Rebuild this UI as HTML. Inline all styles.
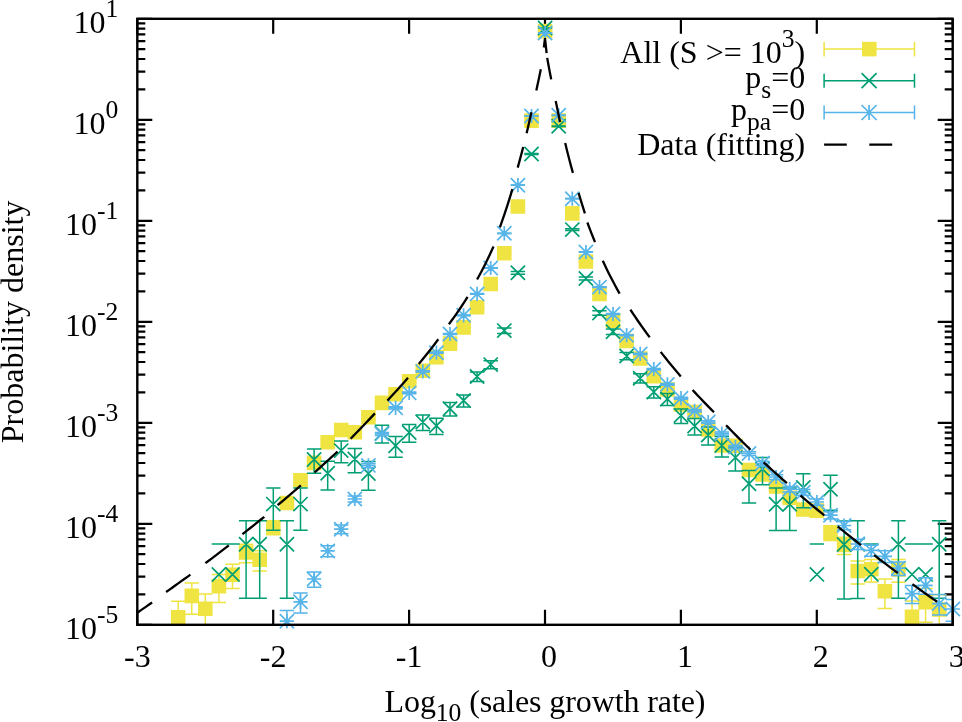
<!DOCTYPE html>
<html><head><meta charset="utf-8"><style>
html,body{margin:0;padding:0;background:#fff;}
svg{display:block;}
text{font-family:"Liberation Serif",serif;font-size:32px;fill:#000;}
svg{will-change:transform;}
</style></head><body>
<svg width="962" height="722" viewBox="0 0 962 722">
<defs><clipPath id="c"><rect x="137.3" y="18.8" width="815.40" height="606.00"/></clipPath></defs>
<rect width="962" height="722" fill="#fff"/>
<path d="M137.30 624.80V609.80M137.30 18.80V33.80M273.20 624.80V609.80M273.20 18.80V33.80M409.10 624.80V609.80M409.10 18.80V33.80M545.00 624.80V609.80M545.00 18.80V33.80M680.90 624.80V609.80M680.90 18.80V33.80M816.80 624.80V609.80M816.80 18.80V33.80M952.70 624.80V609.80M952.70 18.80V33.80M137.30 624.80H152.30M952.70 624.80H937.70M137.30 594.40H145.30M952.70 594.40H944.70M137.30 576.61H145.30M952.70 576.61H944.70M137.30 563.99H145.30M952.70 563.99H944.70M137.30 554.20H145.30M952.70 554.20H944.70M137.30 546.21H145.30M952.70 546.21H944.70M137.30 539.45H145.30M952.70 539.45H944.70M137.30 533.59H145.30M952.70 533.59H944.70M137.30 528.42H145.30M952.70 528.42H944.70M137.30 523.80H152.30M952.70 523.80H937.70M137.30 493.40H145.30M952.70 493.40H944.70M137.30 475.61H145.30M952.70 475.61H944.70M137.30 462.99H145.30M952.70 462.99H944.70M137.30 453.20H145.30M952.70 453.20H944.70M137.30 445.21H145.30M952.70 445.21H944.70M137.30 438.45H145.30M952.70 438.45H944.70M137.30 432.59H145.30M952.70 432.59H944.70M137.30 427.42H145.30M952.70 427.42H944.70M137.30 422.80H152.30M952.70 422.80H937.70M137.30 392.40H145.30M952.70 392.40H944.70M137.30 374.61H145.30M952.70 374.61H944.70M137.30 361.99H145.30M952.70 361.99H944.70M137.30 352.20H145.30M952.70 352.20H944.70M137.30 344.21H145.30M952.70 344.21H944.70M137.30 337.45H145.30M952.70 337.45H944.70M137.30 331.59H145.30M952.70 331.59H944.70M137.30 326.42H145.30M952.70 326.42H944.70M137.30 321.80H152.30M952.70 321.80H937.70M137.30 291.40H145.30M952.70 291.40H944.70M137.30 273.61H145.30M952.70 273.61H944.70M137.30 260.99H145.30M952.70 260.99H944.70M137.30 251.20H145.30M952.70 251.20H944.70M137.30 243.21H145.30M952.70 243.21H944.70M137.30 236.45H145.30M952.70 236.45H944.70M137.30 230.59H145.30M952.70 230.59H944.70M137.30 225.42H145.30M952.70 225.42H944.70M137.30 220.80H152.30M952.70 220.80H937.70M137.30 190.40H145.30M952.70 190.40H944.70M137.30 172.61H145.30M952.70 172.61H944.70M137.30 159.99H145.30M952.70 159.99H944.70M137.30 150.20H145.30M952.70 150.20H944.70M137.30 142.21H145.30M952.70 142.21H944.70M137.30 135.45H145.30M952.70 135.45H944.70M137.30 129.59H145.30M952.70 129.59H944.70M137.30 124.42H145.30M952.70 124.42H944.70M137.30 119.80H152.30M952.70 119.80H937.70M137.30 89.40H145.30M952.70 89.40H944.70M137.30 71.61H145.30M952.70 71.61H944.70M137.30 58.99H145.30M952.70 58.99H944.70M137.30 49.20H145.30M952.70 49.20H944.70M137.30 41.21H145.30M952.70 41.21H944.70M137.30 34.45H145.30M952.70 34.45H944.70M137.30 28.59H145.30M952.70 28.59H944.70M137.30 23.42H145.30M952.70 23.42H944.70M137.30 18.80H152.30M952.70 18.80H937.70" stroke="#000" stroke-width="2.2" fill="none"/>
<g fill="none" stroke-linecap="butt">
<path d="M178.2 601.3V642.4M171.0 642.4H185.4M171.0 601.3H185.4M191.8 583.0V614.3M184.6 614.3H199.0M184.6 583.0H199.0M205.3 594.1V631.0M198.2 631.0H212.5M198.2 594.1H212.5M218.9 574.5V602.4M211.7 602.4H226.1M211.7 574.5H226.1M232.5 564.2V588.5M225.3 588.5H239.7M225.3 564.2H239.7M246.1 544.2V562.8M238.9 562.8H253.3M238.9 544.2H253.3M259.7 550.7V571.0M252.5 571.0H266.9M252.5 550.7H266.9M273.3 520.8V534.7M266.1 534.7H280.5M266.1 520.8H280.5M286.9 498.1V508.6M279.7 508.6H294.1M279.7 498.1H294.1M300.5 476.4V484.4M293.3 484.4H307.7M293.3 476.4H307.7M314.1 459.7V466.3M306.9 466.3H321.3M306.9 459.7H321.3M327.7 439.7V444.9M320.5 444.9H334.9M320.5 439.7H334.9M341.2 427.8V432.3M334.1 432.3H348.4M334.1 427.8H348.4M354.8 430.0V434.7M347.6 434.7H362.0M347.6 430.0H362.0M368.4 415.3V419.2M361.2 419.2H375.6M361.2 415.3H375.6M382.0 401.3V404.6M374.8 404.6H389.2M374.8 401.3H389.2M395.6 392.8V395.8M388.4 395.8H402.8M388.4 392.8H402.8M409.2 379.9V382.5M402.0 382.5H416.4M402.0 379.9H416.4M422.8 369.7V372.0M415.6 372.0H430.0M415.6 369.7H430.0M436.4 356.2V358.2M429.2 358.2H443.6M429.2 356.2H443.6M450.0 342.8V344.5M442.8 344.5H457.2M442.8 342.8H457.2M463.6 326.7V328.1M456.4 328.1H470.8M456.4 326.7H470.8M477.1 306.7V307.9M469.9 307.9H484.3M469.9 306.7H484.3M490.7 283.6V284.4M483.5 284.4H497.9M483.5 283.6H497.9M504.3 253.0V253.6M497.1 253.6H511.5M497.1 253.0H511.5M517.9 206.3V206.7M510.7 206.7H525.1M510.7 206.3H525.1M531.5 120.5V120.7M524.3 120.7H538.7M524.3 120.5H538.7M545.1 31.1V31.1M537.9 31.1H552.3M537.9 31.1H552.3M558.7 120.5V120.7M551.5 120.7H565.9M551.5 120.5H565.9M572.3 213.2V213.6M565.1 213.6H579.5M565.1 213.2H579.5M585.9 261.2V261.8M578.7 261.8H593.1M578.7 261.2H593.1M599.5 293.5V294.5M592.3 294.5H606.7M592.3 293.5H606.7M613.0 319.9V321.3M605.8 321.3H620.2M605.8 319.9H620.2M626.6 340.2V341.8M619.4 341.8H633.8M619.4 340.2H633.8M640.2 357.5V359.5M633.0 359.5H647.4M633.0 357.5H647.4M653.8 374.9V377.4M646.6 377.4H661.0M646.6 374.9H661.0M667.4 388.1V390.9M660.2 390.9H674.6M660.2 388.1H674.6M681.0 402.8V406.2M673.8 406.2H688.2M673.8 402.8H688.2M694.6 410.2V413.9M687.4 413.9H701.8M687.4 410.2H701.8M708.2 427.3V431.8M701.0 431.8H715.4M701.0 427.3H715.4M721.8 442.9V448.3M714.6 448.3H729.0M714.6 442.9H729.0M735.4 443.1V448.5M728.2 448.5H742.6M728.2 443.1H742.6M749.0 466.6V473.7M741.8 473.7H756.2M741.8 466.6H756.2M762.5 470.9V478.4M755.3 478.4H769.7M755.3 470.9H769.7M776.1 482.4V491.1M768.9 491.1H783.3M768.9 482.4H783.3M789.7 493.1V502.9M782.5 502.9H796.9M782.5 493.1H796.9M803.3 504.2V515.5M796.1 515.5H810.5M796.1 504.2H810.5M816.9 505.2V516.7M809.7 516.7H824.1M809.7 505.2H824.1M830.5 525.8V540.6M823.3 540.6H837.7M823.3 525.8H837.7M844.1 537.3V554.4M836.9 554.4H851.3M836.9 537.3H851.3M857.7 560.9V584.1M850.5 584.1H864.9M850.5 560.9H864.9M871.3 559.4V582.1M864.1 582.1H878.5M864.1 559.4H878.5M884.9 578.9V608.4M877.6 608.4H892.1M877.6 578.9H892.1M898.4 559.5V582.2M891.2 582.2H905.6M891.2 559.5H905.6M912.0 601.0V641.9M904.8 641.9H919.2M904.8 601.0H919.2M925.6 588.4V622.2M918.4 622.2H932.8M918.4 588.4H932.8M939.2 594.7V631.9M932.0 631.9H946.4M932.0 594.7H946.4" stroke="#f0e442" stroke-width="1.5" clip-path="url(#c)"/>
<path d="M170.9 609.9h14.6v14.6h-14.6zM184.5 588.6h14.6v14.6h-14.6zM198.0 601.5h14.6v14.6h-14.6zM211.6 579.0h14.6v14.6h-14.6zM225.2 567.4h14.6v14.6h-14.6zM238.8 545.2h14.6v14.6h-14.6zM252.4 552.4h14.6v14.6h-14.6zM266.0 519.9h14.6v14.6h-14.6zM279.6 495.7h14.6v14.6h-14.6zM293.2 472.9h14.6v14.6h-14.6zM306.8 455.6h14.6v14.6h-14.6zM320.4 434.9h14.6v14.6h-14.6zM333.9 422.7h14.6v14.6h-14.6zM347.5 425.0h14.6v14.6h-14.6zM361.1 409.9h14.6v14.6h-14.6zM374.7 395.6h14.6v14.6h-14.6zM388.3 387.0h14.6v14.6h-14.6zM401.9 373.9h14.6v14.6h-14.6zM415.5 363.5h14.6v14.6h-14.6zM429.1 349.9h14.6v14.6h-14.6zM442.7 336.3h14.6v14.6h-14.6zM456.3 320.1h14.6v14.6h-14.6zM469.8 300.0h14.6v14.6h-14.6zM483.4 276.7h14.6v14.6h-14.6zM497.0 246.0h14.6v14.6h-14.6zM510.6 199.2h14.6v14.6h-14.6zM524.2 113.3h14.6v14.6h-14.6zM537.8 23.8h14.6v14.6h-14.6zM551.4 113.3h14.6v14.6h-14.6zM565.0 206.1h14.6v14.6h-14.6zM578.6 254.2h14.6v14.6h-14.6zM592.2 286.7h14.6v14.6h-14.6zM605.8 313.3h14.6v14.6h-14.6zM619.3 333.7h14.6v14.6h-14.6zM632.9 351.2h14.6v14.6h-14.6zM646.5 368.8h14.6v14.6h-14.6zM660.1 382.2h14.6v14.6h-14.6zM673.7 397.2h14.6v14.6h-14.6zM687.3 404.7h14.6v14.6h-14.6zM700.9 422.2h14.6v14.6h-14.6zM714.5 438.2h14.6v14.6h-14.6zM728.1 438.4h14.6v14.6h-14.6zM741.7 462.7h14.6v14.6h-14.6zM755.2 467.2h14.6v14.6h-14.6zM768.8 479.2h14.6v14.6h-14.6zM782.4 490.4h14.6v14.6h-14.6zM796.0 502.2h14.6v14.6h-14.6zM809.6 503.3h14.6v14.6h-14.6zM823.2 525.3h14.6v14.6h-14.6zM836.8 537.7h14.6v14.6h-14.6zM850.4 563.7h14.6v14.6h-14.6zM864.0 562.0h14.6v14.6h-14.6zM877.6 583.9h14.6v14.6h-14.6zM891.1 562.1h14.6v14.6h-14.6zM904.7 609.5h14.6v14.6h-14.6zM918.3 594.8h14.6v14.6h-14.6zM931.9 602.2h14.6v14.6h-14.6z" fill="#f0e442" stroke="none"/>
<path d="M211.7 544.1H226.1M225.3 544.1H239.7M246.1 520.7V598.2M238.9 598.2H253.3M238.9 520.7H253.3M259.7 520.7V598.2M252.5 598.2H266.9M252.5 520.7H266.9M273.3 487.9V530.2M266.1 530.2H280.5M266.1 487.9H280.5M286.9 520.7V598.2M279.7 598.2H294.1M279.7 520.7H294.1M300.5 487.9V530.2M293.3 530.2H307.7M293.3 487.9H307.7M314.1 449.0V473.3M306.9 473.3H321.3M306.9 449.0H321.3M327.7 461.3V489.9M320.5 489.9H334.9M320.5 461.3H334.9M341.2 441.0V462.8M334.1 462.8H348.4M334.1 441.0H348.4M354.8 448.6V472.7M347.6 472.7H362.0M347.6 448.6H362.0M368.4 461.4V490.2M361.2 490.2H375.6M361.2 461.4H375.6M382.0 425.2V443.0M374.8 443.0H389.2M374.8 425.2H389.2M395.6 436.6V457.2M388.4 457.2H402.8M388.4 436.6H402.8M409.2 424.6V442.2M402.0 442.2H416.4M402.0 424.6H416.4M422.8 415.0V430.6M415.6 430.6H430.0M415.6 415.0H430.0M436.4 418.3V434.6M429.2 434.6H443.6M429.2 418.3H443.6M450.0 402.6V416.0M442.8 416.0H457.2M442.8 402.6H457.2M463.6 394.9V407.0M456.4 407.0H470.8M456.4 394.9H470.8M477.1 372.1V381.4M469.9 381.4H484.3M469.9 372.1H484.3M490.7 360.8V368.8M483.5 368.8H497.9M483.5 360.8H497.9M504.3 328.0V333.4M497.1 333.4H511.5M497.1 328.0H511.5M517.9 271.4V274.2M510.7 274.2H525.1M510.7 271.4H525.1M531.5 153.6V154.4M524.3 154.4H538.7M524.3 153.6H538.7M545.1 27.9V28.1M537.9 28.1H552.3M537.9 27.9H552.3M558.7 126.0V126.6M551.5 126.6H565.9M551.5 126.0H565.9M572.3 228.8V230.5M565.1 230.5H579.5M565.1 228.8H579.5M585.9 277.0V280.0M578.7 280.0H593.1M578.7 277.0H593.1M599.5 310.8V315.3M592.3 315.3H606.7M592.3 310.8H606.7M613.0 329.0V334.6M605.8 334.6H620.2M605.8 329.0H620.2M626.6 352.5V359.8M619.4 359.8H633.8M619.4 352.5H633.8M640.2 373.8V383.1M633.0 383.1H647.4M633.0 373.8H647.4M653.8 386.8V397.9M646.6 397.9H661.0M646.6 386.8H661.0M667.4 393.4V405.4M660.2 405.4H674.6M660.2 393.4H674.6M681.0 409.0V423.4M673.8 423.4H688.2M673.8 409.0H688.2M694.6 418.6V434.9M687.4 434.9H701.8M687.4 418.6H701.8M708.2 426.9V445.0M701.0 445.0H715.4M701.0 426.9H715.4M721.8 436.4V456.9M714.6 456.9H729.0M714.6 436.4H729.0M735.4 447.3V471.0M728.2 471.0H742.6M728.2 447.3H742.6M749.0 470.4V503.1M741.8 503.1H756.2M741.8 470.4H756.2M762.5 457.5V484.7M755.3 484.7H769.7M755.3 457.5H769.7M776.1 488.0V530.5M768.9 530.5H783.3M768.9 488.0H783.3M789.7 488.0V530.5M782.5 530.5H796.9M782.5 488.0H796.9M803.3 473.7V507.8M796.1 507.8H810.5M796.1 473.7H810.5M809.7 544.0H824.1M830.5 475.2V510.2M823.3 510.2H837.7M823.3 475.2H837.7M844.1 521.0V598.9M836.9 598.9H851.3M836.9 521.0H851.3M857.7 520.8V598.4M850.5 598.4H864.9M850.5 520.8H864.9M864.1 544.0H878.5M898.4 520.7V598.2M891.2 598.2H905.6M891.2 520.7H905.6M904.8 544.0H919.2M918.4 544.0H932.8M939.2 520.7V598.2M932.0 598.2H946.4M932.0 520.7H946.4" stroke="#009e73" stroke-width="1.5" clip-path="url(#c)"/>
<path d="M211.8 567.4l14.2 14.2M211.8 581.6l14.2 -14.2M225.4 567.4l14.2 14.2M225.4 581.6l14.2 -14.2M239.0 537.1l14.2 14.2M239.0 551.3l14.2 -14.2M252.6 537.1l14.2 14.2M252.6 551.3l14.2 -14.2M266.2 497.0l14.2 14.2M266.2 511.2l14.2 -14.2M279.8 537.1l14.2 14.2M279.8 551.3l14.2 -14.2M293.4 497.0l14.2 14.2M293.4 511.2l14.2 -14.2M307.0 452.4l14.2 14.2M307.0 466.6l14.2 -14.2M320.6 466.2l14.2 14.2M320.6 480.4l14.2 -14.2M334.1 443.5l14.2 14.2M334.1 457.7l14.2 -14.2M347.7 451.9l14.2 14.2M347.7 466.1l14.2 -14.2M361.3 466.4l14.2 14.2M361.3 480.6l14.2 -14.2M374.9 426.1l14.2 14.2M374.9 440.3l14.2 -14.2M388.5 438.6l14.2 14.2M388.5 452.8l14.2 -14.2M402.1 425.4l14.2 14.2M402.1 439.6l14.2 -14.2M415.7 415.0l14.2 14.2M415.7 429.2l14.2 -14.2M429.3 418.6l14.2 14.2M429.3 432.8l14.2 -14.2M442.9 401.7l14.2 14.2M442.9 415.9l14.2 -14.2M456.5 393.4l14.2 14.2M456.5 407.6l14.2 -14.2M470.0 369.4l14.2 14.2M470.0 383.6l14.2 -14.2M483.6 357.5l14.2 14.2M483.6 371.7l14.2 -14.2M497.2 323.5l14.2 14.2M497.2 337.7l14.2 -14.2M510.8 265.7l14.2 14.2M510.8 279.9l14.2 -14.2M524.4 146.9l14.2 14.2M524.4 161.1l14.2 -14.2M538.0 20.9l14.2 14.2M538.0 35.1l14.2 -14.2M551.6 119.2l14.2 14.2M551.6 133.4l14.2 -14.2M565.2 222.5l14.2 14.2M565.2 236.7l14.2 -14.2M578.8 271.4l14.2 14.2M578.8 285.6l14.2 -14.2M592.4 305.9l14.2 14.2M592.4 320.1l14.2 -14.2M605.9 324.6l14.2 14.2M605.9 338.8l14.2 -14.2M619.5 348.9l14.2 14.2M619.5 363.1l14.2 -14.2M633.1 371.1l14.2 14.2M633.1 385.3l14.2 -14.2M646.7 384.9l14.2 14.2M646.7 399.1l14.2 -14.2M660.3 391.9l14.2 14.2M660.3 406.1l14.2 -14.2M673.9 408.5l14.2 14.2M673.9 422.7l14.2 -14.2M687.5 418.9l14.2 14.2M687.5 433.1l14.2 -14.2M701.1 427.9l14.2 14.2M701.1 442.1l14.2 -14.2M714.7 438.4l14.2 14.2M714.7 452.6l14.2 -14.2M728.3 450.5l14.2 14.2M728.3 464.7l14.2 -14.2M741.9 476.7l14.2 14.2M741.9 490.9l14.2 -14.2M755.4 461.9l14.2 14.2M755.4 476.1l14.2 -14.2M769.0 497.2l14.2 14.2M769.0 511.4l14.2 -14.2M782.6 497.2l14.2 14.2M782.6 511.4l14.2 -14.2M796.2 480.4l14.2 14.2M796.2 494.6l14.2 -14.2M809.8 567.3l14.2 14.2M809.8 581.5l14.2 -14.2M823.4 482.2l14.2 14.2M823.4 496.4l14.2 -14.2M837.0 537.4l14.2 14.2M837.0 551.6l14.2 -14.2M850.6 537.2l14.2 14.2M850.6 551.4l14.2 -14.2M864.2 567.2l14.2 14.2M864.2 581.4l14.2 -14.2M891.3 537.1l14.2 14.2M891.3 551.3l14.2 -14.2M904.9 567.3l14.2 14.2M904.9 581.5l14.2 -14.2M918.5 567.3l14.2 14.2M918.5 581.5l14.2 -14.2M932.1 537.1l14.2 14.2M932.1 551.3l14.2 -14.2" stroke="#009e73" stroke-width="1.7"/>
<path d="M286.9 610.4V635.5M279.7 635.5H294.1M279.7 610.4H294.1M300.5 593.0V612.9M293.3 612.9H307.7M293.3 593.0H307.7M314.1 572.0V587.3M306.9 587.3H321.3M306.9 572.0H321.3M327.7 545.7V556.8M320.5 556.8H334.9M320.5 545.7H334.9M341.2 525.1V533.7M334.1 533.7H348.4M334.1 525.1H348.4M354.8 496.1V502.1M347.6 502.1H362.0M347.6 496.1H362.0M368.4 463.4V467.5M361.2 467.5H375.6M361.2 463.4H375.6M382.0 432.5V435.4M374.8 435.4H389.2M374.8 432.5H389.2M395.6 406.7V408.9M388.4 408.9H402.8M388.4 406.7H402.8M409.2 392.0V393.8M402.0 393.8H416.4M402.0 392.0H416.4M422.8 370.7V372.1M415.6 372.1H430.0M415.6 370.7H430.0M436.4 352.1V353.3M429.2 353.3H443.6M429.2 352.1H443.6M450.0 333.5V334.5M442.8 334.5H457.2M442.8 333.5H457.2M463.6 314.9V315.7M456.4 315.7H470.8M456.4 314.9H470.8M477.1 293.6V294.2M469.9 294.2H484.3M469.9 293.6H484.3M490.7 267.8V268.2M483.5 268.2H497.9M483.5 267.8H497.9M504.3 233.2V233.4M497.1 233.4H511.5M497.1 233.2H511.5M517.9 185.1V185.3M510.7 185.3H525.1M510.7 185.1H525.1M531.5 116.0V116.0M524.3 116.0H538.7M524.3 116.0H538.7M545.1 33.0V33.0M537.9 33.0H552.3M537.9 33.0H552.3M558.7 115.3V115.3M551.5 115.3H565.9M551.5 115.3H565.9M572.3 198.6V198.8M565.1 198.8H579.5M565.1 198.6H579.5M585.9 251.8V252.2M578.7 252.2H593.1M578.7 251.8H593.1M599.5 286.8V287.4M592.3 287.4H606.7M592.3 286.8H606.7M613.0 313.6V314.4M605.8 314.4H620.2M605.8 313.6H620.2M626.6 334.7V335.7M619.4 335.7H633.8M619.4 334.7H633.8M640.2 353.3V354.5M633.0 354.5H647.4M633.0 353.3H647.4M653.8 368.5V369.9M646.6 369.9H661.0M646.6 368.5H661.0M667.4 383.6V385.2M660.2 385.2H674.6M660.2 383.6H674.6M681.0 397.2V399.2M673.8 399.2H688.2M673.8 397.2H688.2M694.6 409.7V411.9M687.4 411.9H701.8M687.4 409.7H701.8M708.2 420.8V423.3M701.0 423.3H715.4M701.0 420.8H715.4M721.8 432.1V435.0M714.6 435.0H729.0M714.6 432.1H729.0M735.4 445.4V448.7M728.2 448.7H742.6M728.2 445.4H742.6M749.0 451.7V455.4M741.8 455.4H756.2M741.8 451.7H756.2M762.5 461.3V465.4M755.3 465.4H769.7M755.3 461.3H769.7M776.1 474.7V479.4M768.9 479.4H783.3M768.9 474.7H783.3M789.7 486.6V492.0M782.5 492.0H796.9M782.5 486.6H796.9M803.3 489.6V495.2M796.1 495.2H810.5M796.1 489.6H810.5M816.9 499.0V505.3M809.7 505.3H824.1M809.7 499.0H824.1M830.5 511.7V519.0M823.3 519.0H837.7M823.3 511.7H837.7M844.1 521.6V529.8M836.9 529.8H851.3M836.9 521.6H851.3M857.7 539.2V549.4M850.5 549.4H864.9M850.5 539.2H864.9M871.3 545.2V556.2M864.1 556.2H878.5M864.1 545.2H878.5M884.9 550.8V562.6M877.6 562.6H892.1M877.6 550.8H892.1M898.4 561.9V575.4M891.2 575.4H905.6M891.2 561.9H905.6M912.0 585.5V603.6M904.8 603.6H919.2M904.8 585.5H919.2M925.6 577.8V594.3M918.4 594.3H932.8M918.4 577.8H932.8M939.2 594.6V615.0M932.0 615.0H946.4M932.0 594.6H946.4M952.8 599.5V621.2M945.6 621.2H960.0M945.6 599.5H960.0" stroke="#56b4e9" stroke-width="1.5" clip-path="url(#c)"/>
<path d="M279.8 614.1l14.2 14.2M279.8 628.3l14.2 -14.2M286.9 614.1v14.2M279.8 621.2h14.2M293.4 594.7l14.2 14.2M293.4 608.9l14.2 -14.2M300.5 594.7v14.2M293.4 601.8h14.2M307.0 571.9l14.2 14.2M307.0 586.1l14.2 -14.2M314.1 571.9v14.2M307.0 579.0h14.2M320.6 543.8l14.2 14.2M320.6 558.0l14.2 -14.2M327.7 543.8v14.2M320.6 550.9h14.2M334.1 522.1l14.2 14.2M334.1 536.3l14.2 -14.2M341.2 522.1v14.2M334.1 529.2h14.2M347.7 491.9l14.2 14.2M347.7 506.1l14.2 -14.2M354.8 491.9v14.2M347.7 499.0h14.2M361.3 458.3l14.2 14.2M361.3 472.5l14.2 -14.2M368.4 458.3v14.2M361.3 465.4h14.2M374.9 426.8l14.2 14.2M374.9 441.0l14.2 -14.2M382.0 426.8v14.2M374.9 433.9h14.2M388.5 400.7l14.2 14.2M388.5 414.9l14.2 -14.2M395.6 400.7v14.2M388.5 407.8h14.2M402.1 385.8l14.2 14.2M402.1 400.0l14.2 -14.2M409.2 385.8v14.2M402.1 392.9h14.2M415.7 364.3l14.2 14.2M415.7 378.5l14.2 -14.2M422.8 364.3v14.2M415.7 371.4h14.2M429.3 345.6l14.2 14.2M429.3 359.8l14.2 -14.2M436.4 345.6v14.2M429.3 352.7h14.2M442.9 326.9l14.2 14.2M442.9 341.1l14.2 -14.2M450.0 326.9v14.2M442.9 334.0h14.2M456.5 308.2l14.2 14.2M456.5 322.4l14.2 -14.2M463.6 308.2v14.2M456.5 315.3h14.2M470.0 286.8l14.2 14.2M470.0 301.0l14.2 -14.2M477.1 286.8v14.2M470.0 293.9h14.2M483.6 260.9l14.2 14.2M483.6 275.1l14.2 -14.2M490.7 260.9v14.2M483.6 268.0h14.2M497.2 226.2l14.2 14.2M497.2 240.4l14.2 -14.2M504.3 226.2v14.2M497.2 233.3h14.2M510.8 178.1l14.2 14.2M510.8 192.3l14.2 -14.2M517.9 178.1v14.2M510.8 185.2h14.2M524.4 108.9l14.2 14.2M524.4 123.1l14.2 -14.2M531.5 108.9v14.2M524.4 116.0h14.2M538.0 25.9l14.2 14.2M538.0 40.1l14.2 -14.2M545.1 25.9v14.2M538.0 33.0h14.2M551.6 108.2l14.2 14.2M551.6 122.4l14.2 -14.2M558.7 108.2v14.2M551.6 115.3h14.2M565.2 191.6l14.2 14.2M565.2 205.8l14.2 -14.2M572.3 191.6v14.2M565.2 198.7h14.2M578.8 244.9l14.2 14.2M578.8 259.1l14.2 -14.2M585.9 244.9v14.2M578.8 252.0h14.2M592.4 280.0l14.2 14.2M592.4 294.2l14.2 -14.2M599.5 280.0v14.2M592.4 287.1h14.2M605.9 306.9l14.2 14.2M605.9 321.1l14.2 -14.2M613.0 306.9v14.2M605.9 314.0h14.2M619.5 328.1l14.2 14.2M619.5 342.3l14.2 -14.2M626.6 328.1v14.2M619.5 335.2h14.2M633.1 346.8l14.2 14.2M633.1 361.0l14.2 -14.2M640.2 346.8v14.2M633.1 353.9h14.2M646.7 362.1l14.2 14.2M646.7 376.3l14.2 -14.2M653.8 362.1v14.2M646.7 369.2h14.2M660.3 377.3l14.2 14.2M660.3 391.5l14.2 -14.2M667.4 377.3v14.2M660.3 384.4h14.2M673.9 391.1l14.2 14.2M673.9 405.3l14.2 -14.2M681.0 391.1v14.2M673.9 398.2h14.2M687.5 403.7l14.2 14.2M687.5 417.9l14.2 -14.2M694.6 403.7v14.2M687.5 410.8h14.2M701.1 414.9l14.2 14.2M701.1 429.1l14.2 -14.2M708.2 414.9v14.2M701.1 422.0h14.2M714.7 426.4l14.2 14.2M714.7 440.6l14.2 -14.2M721.8 426.4v14.2M714.7 433.5h14.2M728.3 439.9l14.2 14.2M728.3 454.1l14.2 -14.2M735.4 439.9v14.2M728.3 447.0h14.2M741.9 446.4l14.2 14.2M741.9 460.6l14.2 -14.2M749.0 446.4v14.2M741.9 453.5h14.2M755.4 456.2l14.2 14.2M755.4 470.4l14.2 -14.2M762.5 456.2v14.2M755.4 463.3h14.2M769.0 469.9l14.2 14.2M769.0 484.1l14.2 -14.2M776.1 469.9v14.2M769.0 477.0h14.2M782.6 482.1l14.2 14.2M782.6 496.3l14.2 -14.2M789.7 482.1v14.2M782.6 489.2h14.2M796.2 485.2l14.2 14.2M796.2 499.4l14.2 -14.2M803.3 485.2v14.2M796.2 492.3h14.2M809.8 494.9l14.2 14.2M809.8 509.1l14.2 -14.2M816.9 494.9v14.2M809.8 502.0h14.2M823.4 508.1l14.2 14.2M823.4 522.3l14.2 -14.2M830.5 508.1v14.2M823.4 515.2h14.2M837.0 518.4l14.2 14.2M837.0 532.6l14.2 -14.2M844.1 518.4v14.2M837.0 525.5h14.2M850.6 536.9l14.2 14.2M850.6 551.1l14.2 -14.2M857.7 536.9v14.2M850.6 544.0h14.2M864.2 543.3l14.2 14.2M864.2 557.5l14.2 -14.2M871.3 543.3v14.2M864.2 550.4h14.2M877.8 549.2l14.2 14.2M877.8 563.4l14.2 -14.2M884.9 549.2v14.2M877.8 556.3h14.2M891.3 561.0l14.2 14.2M891.3 575.2l14.2 -14.2M898.4 561.0v14.2M891.3 568.1h14.2M904.9 586.5l14.2 14.2M904.9 600.7l14.2 -14.2M912.0 586.5v14.2M904.9 593.6h14.2M918.5 578.2l14.2 14.2M918.5 592.4l14.2 -14.2M925.6 578.2v14.2M918.5 585.3h14.2M932.1 596.5l14.2 14.2M932.1 610.7l14.2 -14.2M939.2 596.5v14.2M932.1 603.6h14.2M945.7 601.9l14.2 14.2M945.7 616.1l14.2 -14.2M952.8 601.9v14.2M945.7 609.0h14.2" stroke="#56b4e9" stroke-width="1.7"/>
<path d="M137.30 612.70L139.15 611.44L141.00 610.17L142.85 608.90L144.70 607.63L146.55 606.35L148.40 605.07L150.25 603.79L152.10 602.50M166.10 592.00L169.14 589.86L172.18 587.70L175.21 585.54L178.25 583.37L181.29 581.19L184.32 579.01L187.36 576.81L190.40 574.60M205.40 563.20L208.33 561.01L211.25 558.81L214.18 556.59L217.10 554.37L220.03 552.14L222.95 549.91L225.88 547.66L228.80 545.40M242.40 534.20L245.14 532.06L247.88 529.90L250.61 527.74L253.35 525.57L256.09 523.39L258.82 521.20L261.56 519.01L264.30 516.80M277.60 505.20L280.51 502.75L283.43 500.29L286.34 497.82L289.25 495.34L292.16 492.85L295.07 490.35L297.99 487.83L300.90 485.30M314.60 472.40L317.46 469.85L320.33 467.28L323.19 464.71L326.05 462.11L328.91 459.51L331.77 456.89L334.64 454.25L337.50 451.60M350.60 438.70L353.64 435.61L356.68 432.51L359.71 429.38L362.75 426.23L365.79 423.06L368.82 419.87L371.86 416.65L374.90 413.40M387.40 400.60L389.97 397.84L392.55 395.06L395.12 392.26L397.70 389.42L400.27 386.56L402.85 383.67L405.43 380.75L408.00 377.80M418.80 364.00L421.24 361.05L423.68 358.06L426.11 355.04L428.55 351.96L430.99 348.85L433.43 345.68L435.86 342.47L438.30 339.20M448.90 324.20L451.24 321.06L453.57 317.85L455.91 314.56L458.25 311.20L460.59 307.76L462.93 304.23L465.26 300.61L467.60 296.90M477.10 279.50L479.15 275.78L481.20 271.95L483.25 268.02L485.30 263.97L487.35 259.80L489.40 255.50L491.45 251.07L493.50 246.50M499.90 227.30L501.46 222.92L503.02 218.44L504.59 213.85L506.15 209.15L507.71 204.33L509.27 199.38L510.84 194.31L512.40 189.10M517.70 167.60L518.39 165.14L519.08 162.65L519.76 160.12L520.45 157.57L521.14 154.98L521.83 152.35L522.51 149.69L523.20 147.00M526.60 133.30L527.20 130.77L527.80 128.21L528.40 125.62L529.00 123.00L529.60 120.35L530.20 117.67L530.80 114.95L531.40 112.20M536.30 90.40L536.86 87.88L537.42 85.34L537.99 82.75L538.55 80.13L539.11 77.48L539.67 74.79L540.24 72.06L540.80 69.30M543.90 47.50L545.00 38.20L546.60 53.10M547.20 57.90L547.70 60.71L548.20 63.48L548.70 66.21L549.20 68.92L549.70 71.59L550.20 74.22L550.70 76.83L551.20 79.40M555.70 100.90L556.25 103.64L556.80 106.34L557.35 109.01L557.90 111.65L558.45 114.26L559.00 116.84L559.55 119.38L560.10 121.90M565.20 143.10L566.16 147.08L567.12 150.98L568.09 154.81L569.05 158.57L570.01 162.25L570.98 165.87L571.94 169.42L572.90 172.90M578.60 192.90L579.39 195.57L580.17 198.20L580.96 200.80L581.75 203.37L582.54 205.90L583.33 208.40L584.11 210.86L584.90 213.30M587.40 222.50L588.35 225.08L589.30 227.63L590.25 230.13L591.20 232.60L592.15 235.03L593.10 237.42L594.05 239.78L595.00 242.10M602.80 260.80L604.90 265.30L607.00 269.67L609.10 273.92L611.20 278.06L613.30 282.09L615.40 286.02L617.50 289.86L619.60 293.60M630.40 309.60L632.81 313.32L635.23 316.95L637.64 320.51L640.05 323.99L642.46 327.41L644.88 330.77L647.29 334.06L649.70 337.30M660.70 351.90L663.21 355.11L665.73 358.28L668.24 361.41L670.75 364.50L673.26 367.55L675.77 370.56L678.29 373.55L680.80 376.50M692.60 390.00L695.27 392.87L697.95 395.72L700.62 398.54L703.30 401.34L705.98 404.11L708.65 406.86L711.33 409.59L714.00 412.30M726.10 425.30L729.15 428.42L732.20 431.52L735.25 434.60L738.30 437.66L741.35 440.70L744.40 443.72L747.45 446.72L750.50 449.70M763.60 462.30L766.51 464.96L769.42 467.61L772.34 470.24L775.25 472.86L778.16 475.47L781.08 478.06L783.99 480.64L786.90 483.20M800.50 495.50L803.48 498.03L806.45 500.55L809.42 503.06L812.40 505.55L815.38 508.03L818.35 510.50L821.32 512.96L824.30 515.40M837.70 526.50L840.61 528.86L843.53 531.21L846.44 533.55L849.35 535.88L852.26 538.20L855.17 540.51L858.09 542.81L861.00 545.10M874.10 555.20L877.06 557.46L880.02 559.71L882.99 561.95L885.95 564.18L888.91 566.40L891.88 568.61L894.84 570.81L897.80 573.00M912.40 584.20L915.49 586.43L918.58 588.66L921.66 590.87L924.75 593.08L927.84 595.27L930.92 597.46L934.01 599.63L937.10 601.80" stroke="#000" stroke-width="2.3"/>
</g>
<rect x="137.3" y="18.8" width="815.40" height="606.00" fill="none" stroke="#000" stroke-width="2.4"/>
<text x="118.3" y="638.8" text-anchor="end">10<tspan dy="-15.7" font-size="25.6">-5</tspan></text><text x="118.3" y="537.8" text-anchor="end">10<tspan dy="-15.7" font-size="25.6">-4</tspan></text><text x="118.3" y="436.8" text-anchor="end">10<tspan dy="-15.7" font-size="25.6">-3</tspan></text><text x="118.3" y="335.8" text-anchor="end">10<tspan dy="-15.7" font-size="25.6">-2</tspan></text><text x="118.3" y="234.8" text-anchor="end">10<tspan dy="-15.7" font-size="25.6">-1</tspan></text><text x="118.3" y="133.8" text-anchor="end">10<tspan dy="-15.7" font-size="25.6">0</tspan></text><text x="118.3" y="32.8" text-anchor="end">10<tspan dy="-15.7" font-size="25.6">1</tspan></text>
<text x="137.3" y="667.2" text-anchor="middle">-3</text><text x="273.2" y="667.2" text-anchor="middle">-2</text><text x="409.1" y="667.2" text-anchor="middle">-1</text><text x="545.0" y="667.2" text-anchor="middle">&#160;0</text><text x="680.9" y="667.2" text-anchor="middle">&#160;1</text><text x="816.8" y="667.2" text-anchor="middle">&#160;2</text><text x="952.7" y="667.2" text-anchor="middle">&#160;3</text>
<text x="384.6" y="711.7" letter-spacing="-0.1">Log<tspan dy="8.8" font-size="25.6">10</tspan><tspan dy="-8.8"> (sales growth rate)</tspan></text>
<text transform="translate(23.1 443.2) rotate(-90)">Probability density</text>
<g>
<text x="805.2" y="62.9" text-anchor="end">All (S &gt;= 10<tspan dy="-15.7" font-size="25.6">3</tspan><tspan dy="15.7">)</tspan></text>
<text x="805.2" y="87.6" text-anchor="end">p<tspan dy="10.3" font-size="25.6">s</tspan><tspan dy="-10.3">=0</tspan></text>
<text x="805.2" y="119.8" text-anchor="end">p<tspan dy="10.3" font-size="25.6">pa</tspan><tspan dy="-10.3">=0</tspan></text>
<text x="805.2" y="154.5" text-anchor="end">Data (fitting)</text>
</g>
<g fill="none">
<path d="M824.1 49.1H914.5M824.1 41.9V56.6M914.5 41.9V56.6" stroke="#f0e442" stroke-width="1.5"/>
<rect x="862" y="41.8" width="14.6" height="14.6" fill="#f0e442"/>
<path d="M824.1 80.7H914.5M824.1 73.7V87.7M914.5 73.7V87.7" stroke="#009e73" stroke-width="1.5"/>
<path d="M861.6 73.2l15 15M861.6 88.2l15 -15" stroke="#009e73" stroke-width="1.7"/>
<path d="M824.1 112.5H914.5M824.1 105.5V119.5M914.5 105.5V119.5" stroke="#56b4e9" stroke-width="1.5"/>
<path d="M861.6 105l15 15M861.6 120l15 -15M869.1 105v15" stroke="#56b4e9" stroke-width="1.7"/>
<path d="M824.1 144.7H846.8M869.3 144.7H892.2" stroke="#000" stroke-width="2.3"/>
</g>
</svg>
</body></html>
